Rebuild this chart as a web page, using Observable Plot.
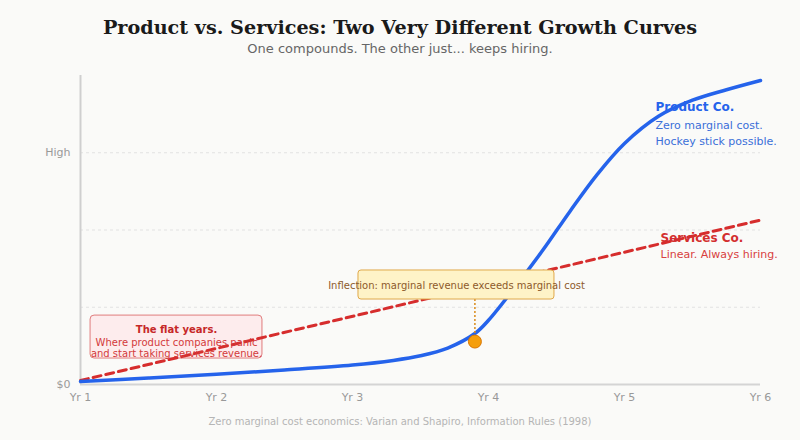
<!DOCTYPE html>
<html>
<head>
<meta charset="utf-8">
<script src="https://cdn.jsdelivr.net/npm/d3@7"></script>
<script src="https://cdn.jsdelivr.net/npm/@observablehq/plot@0.6"></script>
<style>
  html, body { margin: 0; padding: 0; }
  body { width: 800px; height: 440px; background: #fafaf8; position: relative; overflow: hidden; font-family: "DejaVu Sans", sans-serif; }
  #title { position: absolute; top: 17px; left: 0; width: 800px; text-align: center; font-family: "DejaVu Serif", serif; font-weight: bold; font-size: 19.2px; line-height: 22px; color: #1a1a1a; }
  #subtitle { position: absolute; top: 41px; left: 0; width: 800px; text-align: center; font-size: 13px; line-height: 16px; color: #666; }
  #chart { position: absolute; top: 55px; left: 0; }
  #caption { position: absolute; top: 416px; left: 0; width: 800px; text-align: center; font-size: 10px; line-height: 12px; color: #b5b5b5; }
</style>
</head>
<body>
<div id="title">Product vs. Services: Two Very Different Growth Curves</div>
<div id="subtitle">One compounds. The other just... keeps hiring.</div>
<div id="chart"></div>
<div id="caption">Zero marginal cost economics: Varian and Shapiro, Information Rules (1998)</div>
<script>
// ---- data ----
const years = [1, 1.5, 2, 2.5, 3, 3.3, 3.5, 3.7, 3.9, 4, 4.2, 4.4, 4.6, 4.8, 5, 5.25, 5.5, 5.75, 6];
const productRevenue = [1, 2.1, 3.3, 4.7, 6.3, 7.8, 9.3, 11.8, 16.5, 20.8, 31.8, 43.5, 56.1, 68, 78, 86.8, 92, 95.4, 98.4];
const servicesYears = [1, 6];
const servicesRevenue = [1.3, 53.2];
const xTicks = [1, 2, 3, 4, 5, 6];
const xTickLabels = ["Yr 1", "Yr 2", "Yr 3", "Yr 4", "Yr 5", "Yr 6"];
const yTicks = [0, 25, 50, 75];
const yTickLabels = ["$0", "", "", "High"];
const gridTicks = [25, 50, 75];
const inflectionYear = [3.9];
const inflectionValue = [13.9];
const inflectionLabel = ["Inflection: marginal revenue exceeds marginal cost"];
const inflectionBox = [{x1: 3.044, x2: 4.485, y1: 27.5, y2: 36.9}];
const inflectionLabelPos = [{x: 3.765, y: 32.0}];
const flatBox = [{x1: 1.074, x2: 2.338, y1: 8.4, y2: 22.3}];
const flatTitle = ["The flat years."];
const flatTitlePos = [{x: 1.706, y: 17.8}];
const flatLines = ["Where product companies panic", "and start taking services revenue."];
const flatLinePos = [{x: 1.706, y: 13.5}, {x: 1.706, y: 10.0}];
const productTitle = ["Product Co."];
const productTitlePos = [{x: 5.228, y: 89.6}];
const productLines = ["Zero marginal cost.", "Hockey stick possible."];
const productLinePos = [{x: 5.228, y: 83.8}, {x: 5.228, y: 78.6}];
const servicesTitle = ["Services Co."];
const servicesTitlePos = [{x: 5.265, y: 47.2}];
const servicesLines = ["Linear. Always hiring."];
const servicesLinePos = [{x: 5.265, y: 42.1}];

const product = years.map((x, i) => ({x, y: productRevenue[i]}));
const services = servicesYears.map((x, i) => ({x, y: servicesRevenue[i]}));
const inflection = inflectionYear.map((x, i) => ({x, y: inflectionValue[i]}));
const withPos = (texts, pos) => texts.map((t, i) => ({t, x: pos[i].x, y: pos[i].y}));

const BLUE = "#2563eb", RED = "#d62d2d";

const chart = Plot.plot({
  width: 800,
  height: 360,
  marginLeft: 80,
  marginRight: 40,
  marginTop: 20,
  marginBottom: 31,
  style: {background: "transparent", fontFamily: "DejaVu Sans, sans-serif", overflow: "visible"},
  x: {domain: [1, 6]},
  y: {domain: [0, 100]},
  marks: [
    Plot.gridY(gridTicks, {stroke: "#e2e2e2", strokeOpacity: 1, strokeDasharray: "3,3"}),
    Plot.ruleX([1], {y1: 0, y2: 100, stroke: "#cfcfcf", strokeWidth: 2}),
    Plot.ruleY([0], {stroke: "#d4d4d4", strokeWidth: 2}),
    Plot.axisX(xTicks, {tickSize: 0, tickPadding: 9, tickFormat: (d, i) => xTickLabels[i], fill: "#999", fontSize: 11, label: null}),
    Plot.axisY(yTicks, {tickSize: 0, tickPadding: 10, tickFormat: (d, i) => yTickLabels[i], fill: "#999", fontSize: 11, label: null}),
    // flat years box (behind lines)
    Plot.rect(flatBox, {x1: "x1", x2: "x2", y1: "y1", y2: "y2", fill: "#fdeced", stroke: "#e07c7c", strokeWidth: 1, rx: 4}),
    Plot.line(services, {x: "x", y: "y", stroke: RED, strokeWidth: 3, strokeDasharray: "8,5"}),
    Plot.line(product, {x: "x", y: "y", stroke: BLUE, strokeWidth: 3.5, curve: "catmull-rom"}),
    Plot.text(withPos(flatTitle, flatTitlePos), {x: "x", y: "y", text: "t", fill: "#c62828", fontWeight: "bold", fontSize: 10}),
    Plot.text(withPos(flatLines, flatLinePos), {x: "x", y: "y", text: "t", fill: "#d33a3a", fontSize: 10}),
    // inflection
    Plot.ruleX(inflection, {x: "x", y1: "y", y2: () => inflectionBox[0].y1, stroke: "#d98a1a", strokeWidth: 1.5, strokeDasharray: "2,2"}),
    Plot.dot(inflection, {x: "x", y: "y", r: 6.5, fill: "#f59e0b", stroke: "#d97706", strokeWidth: 1}),
    Plot.rect(inflectionBox, {x1: "x1", x2: "x2", y1: "y1", y2: "y2", fill: "#fef3c7", stroke: "#e0a84a", strokeWidth: 1, rx: 3}),
    Plot.text(withPos(inflectionLabel, inflectionLabelPos), {x: "x", y: "y", text: "t", fill: "#8d5a2b", fontSize: 10}),
    // series labels
    Plot.text(withPos(productTitle, productTitlePos), {x: "x", y: "y", text: "t", textAnchor: "start", fill: BLUE, fontWeight: "bold", fontSize: 12}),
    Plot.text(withPos(productLines, productLinePos), {x: "x", y: "y", text: "t", textAnchor: "start", fill: "#3a6fd8", fontSize: 11}),
    Plot.text(withPos(servicesTitle, servicesTitlePos), {x: "x", y: "y", text: "t", textAnchor: "start", fill: "#d32f2f", fontWeight: "bold", fontSize: 12}),
    Plot.text(withPos(servicesLines, servicesLinePos), {x: "x", y: "y", text: "t", textAnchor: "start", fill: "#d84040", fontSize: 11})
  ]
});
document.getElementById("chart").appendChild(chart);
</script>
</body>
</html>
